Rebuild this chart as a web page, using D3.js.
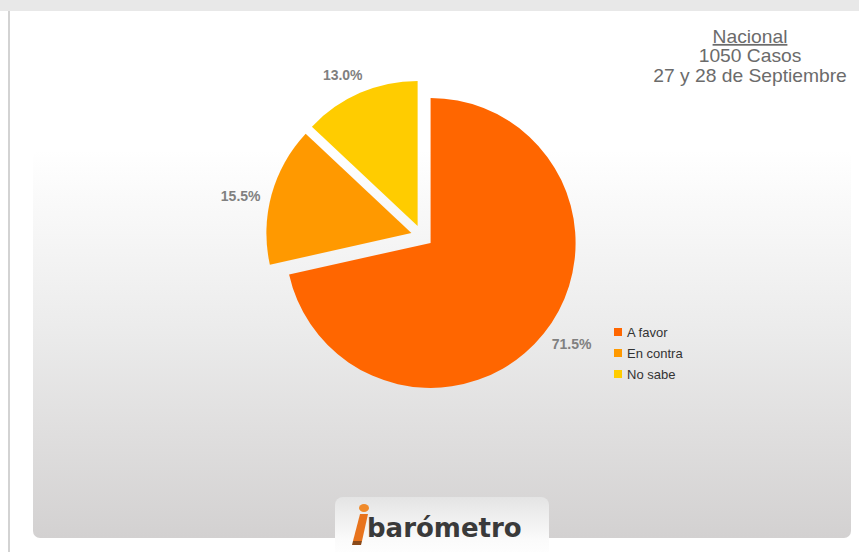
<!DOCTYPE html>
<html>
<head>
<meta charset="utf-8">
<script src="https://cdn.jsdelivr.net/npm/d3@7"></script>
<style>
  html, body { margin: 0; padding: 0; background: #ffffff; }
  svg { display: block; font-family: Arial, "Liberation Sans", sans-serif; }
</style>
</head>
<body>
<div id="chart"></div>
<script>
// chart data
var categories = ["A favor", "En contra", "No sabe"];
var values = [71.5, 15.5, 13.0];
var headerLines = ["Nacional", "1050 Casos", "27 y 28 de Septiembre"];
var sliceColors = ["#FF6600", "#FF9900", "#FFCC00"];

var w = 859;
var h = 552;
var cx = 422, cy = 236;
var radius = 145;
var explode = 11;

var svg = d3.select("#chart").append("svg")
    .attr("width", w)
    .attr("height", h);

var defs = svg.append("defs");
var grad = defs.append("linearGradient")
    .attr("id", "panelGrad")
    .attr("x1", 0).attr("y1", 0).attr("x2", 0).attr("y2", 1);
grad.append("stop").attr("offset", "0%").attr("stop-color", "#ffffff");
grad.append("stop").attr("offset", "45%").attr("stop-color", "#ececec");
grad.append("stop").attr("offset", "100%").attr("stop-color", "#d3d1d1");

var logoGrad = defs.append("linearGradient")
    .attr("id", "logoGrad")
    .attr("x1", 0).attr("y1", 0).attr("x2", 0).attr("y2", 1);
logoGrad.append("stop").attr("offset", "0%").attr("stop-color", "#e4e4e4");
logoGrad.append("stop").attr("offset", "70%").attr("stop-color", "#fbfbfb");
logoGrad.append("stop").attr("offset", "100%").attr("stop-color", "#ffffff");

// top band + left rule
svg.append("rect").attr("x", 0).attr("y", 0).attr("width", w).attr("height", 11).attr("fill", "#e8e8e8");
svg.append("line").attr("x1", 9).attr("x2", 9).attr("y1", 11).attr("y2", h)
    .attr("stroke", "#c4c4c4").attr("stroke-width", 1.5);

// gray gradient panel
svg.append("rect")
    .attr("x", 33).attr("y", 150)
    .attr("width", 818).attr("height", 388)
    .attr("rx", 7)
    .attr("fill", "url(#panelGrad)");

// header text
var header = svg.append("g")
    .attr("transform", "translate(750,0) scale(1.1,1)")
    .attr("fill", "#6b6b6b")
    .attr("font-size", "17.5px")
    .attr("text-anchor", "middle");
header.selectAll("text")
    .data(headerLines)
    .enter()
    .append("text")
    .attr("x", 0)
    .attr("y", function (d, i) { return 43 + i * 19.5; })
    .attr("text-decoration", function (d, i) { return i === 0 ? "underline" : null; })
    .text(function (d) { return d; });

// pie
var color = d3.scaleOrdinal().domain(categories).range(sliceColors);
var pie = d3.pie().sort(null).value(function (d) { return d.value; });
var arc = d3.arc().innerRadius(0).outerRadius(radius);

var pieData = pie(categories.map(function (c, i) { return { name: c, value: values[i] }; }));

function midAngle(d) { return (d.startAngle + d.endAngle) / 2; }

var pieG = svg.append("g").attr("transform", "translate(" + cx + "," + cy + ")");

pieG.selectAll("path")
    .data(pieData)
    .enter()
    .append("path")
    .attr("d", arc)
    .attr("fill", function (d) { return color(d.data.name); })
    .attr("transform", function (d) {
        var a = midAngle(d);
        return "translate(" + (Math.sin(a) * explode) + "," + (-Math.cos(a) * explode) + ")";
    });

var labels = pieG.selectAll("text.lbl")
    .data(pieData)
    .enter()
    .append("text")
    .attr("class", "lbl")
    .attr("font-size", "14px")
    .attr("font-weight", "bold")
    .attr("fill", "#808080")
    .attr("text-anchor", "middle")
    .attr("dy", "0.35em")
    .text(function (d) { return d3.format(".1f")(d.data.value) + "%"; });

// outside-end labels, nudged a little counter-clockwise like the original
labels.each(function (d) {
    var a = midAngle(d) - 0.05;
    var sx = Math.sin(a), sy = -Math.cos(a);
    var hw = this.getComputedTextLength() / 2;
    var dist = radius + explode + 9 + Math.abs(sx) * hw + Math.abs(sy) * 6;
    d3.select(this).attr("x", sx * dist).attr("y", sy * dist);
});

// legend
var legend = svg.append("g").attr("transform", "translate(614,328)");
var rows = legend.selectAll("g")
    .data(categories)
    .enter()
    .append("g")
    .attr("transform", function (d, i) { return "translate(0," + (i * 21) + ")"; });
rows.append("rect")
    .attr("width", 8).attr("height", 8)
    .attr("fill", function (d) { return color(d); });
rows.append("text")
    .attr("x", 13).attr("y", 8.5)
    .attr("font-size", "13px")
    .attr("fill", "#333333")
    .text(function (d) { return d; });

// logo
var logo = svg.append("g");
logo.append("rect")
    .attr("x", 335).attr("y", 497)
    .attr("width", 214).attr("height", 62)
    .attr("rx", 8)
    .attr("fill", "url(#logoGrad)");
logo.append("path")
    .attr("d", "M360,514 L368,514 L362,541 L353,541 Z")
    .attr("fill", "#e8731c");
logo.append("path")
    .attr("d", "M353,541 L362,541 L361,545 L352,545 Z")
    .attr("fill", "#8a4a1a");
logo.append("ellipse")
    .attr("cx", 364).attr("cy", 508).attr("rx", 5).attr("ry", 4)
    .attr("fill", "#f08a2a");
logo.append("text")
    .attr("x", 367).attr("y", 537)
    .attr("font-family", "'DejaVu Sans', sans-serif")
    .attr("font-weight", "bold")
    .attr("font-size", "26px")
    .attr("fill", "#3a3a3a")
    .text("barómetro");
</script>
</body>
</html>
